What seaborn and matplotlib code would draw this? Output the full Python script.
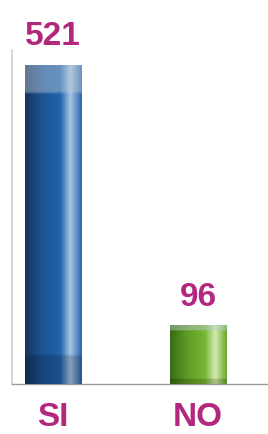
import numpy as np
import pandas as pd
import matplotlib
matplotlib.use("Agg")
import matplotlib.pyplot as plt
import seaborn as sns
from matplotlib.colors import to_rgb

categories = ["SI", "NO"]
values = [521, 96]

bar_colors = ["#1f5fa8", "#6aaa2a"]
# horizontal shading stops for each bar: left dark -> mid -> highlight -> edge
shades = {
    "SI": ["#16345c", "#1e5495", "#1f62ad", "#a9c3e4", "#2a68b0"],
    "NO": ["#3a6a16", "#5e9d24", "#78b832", "#d2ebb0", "#6aa82c"],
}
magenta = "#b3287f"

df = pd.DataFrame({"answer": categories, "count": values})

sns.set_style("white")
plt.rcParams["font.family"] = ["Liberation Sans", "DejaVu Sans"]

fig = plt.figure(figsize=(2.68, 4.34), dpi=100)
ax = fig.add_axes([12 / 268, 50 / 434, 256 / 268, 334 / 434])

sns.barplot(data=df, x="answer", y="count", hue="answer", palette=bar_colors,
            width=0.39, legend=False, ax=ax, saturation=1)

ax.set_xlim(-0.283, 1.483)
ax.set_ylim(0, 545)


def shade_row(stops, n=64):
    cols = np.array([to_rgb(c) for c in stops])
    pos = np.array([0.0, 0.3, 0.62, 0.8, 1.0])
    t = np.linspace(0, 1, n)
    return np.stack([np.interp(t, pos, cols[:, k]) for k in range(3)], axis=1)


for patch, cat in zip(ax.patches, categories):
    x0, w, h = patch.get_x(), patch.get_width(), patch.get_height()
    row = shade_row(shades[cat])
    nrows = 100
    img = np.repeat(row[None, :, :], nrows, axis=0)
    # lighter cap on top, darker band at bottom
    cap = int(nrows * 0.09)
    img[:cap] = img[:cap] * 0.55 + 0.45 * np.array([0.75, 0.8, 0.85])
    img[-cap:] = img[-cap:] * 0.82
    im = ax.imshow(img, extent=[x0, x0 + w, 0, h], aspect="auto",
                   origin="upper", zorder=3, interpolation="bilinear")
    im.set_clip_path(patch)
    patch.set_edgecolor("none")

for container in ax.containers:
    ax.bar_label(container, padding=9, color=magenta, fontsize=24,
                 fontweight="bold", zorder=5)

ax.set_xlabel("")
ax.set_ylabel("")
ax.set_yticks([])
ax.tick_params(axis="x", length=0, pad=13, labelsize=24, labelcolor=magenta)
for lbl in ax.get_xticklabels():
    lbl.set_fontweight("bold")

sns.despine(ax=ax, top=True, right=True)
ax.spines["left"].set_color("#cfcfcf")
ax.spines["bottom"].set_color("#9a9a9a")
ax.spines["left"].set_linewidth(1.2)
ax.spines["bottom"].set_linewidth(1.0)

fig.savefig("out.png", dpi=100)
